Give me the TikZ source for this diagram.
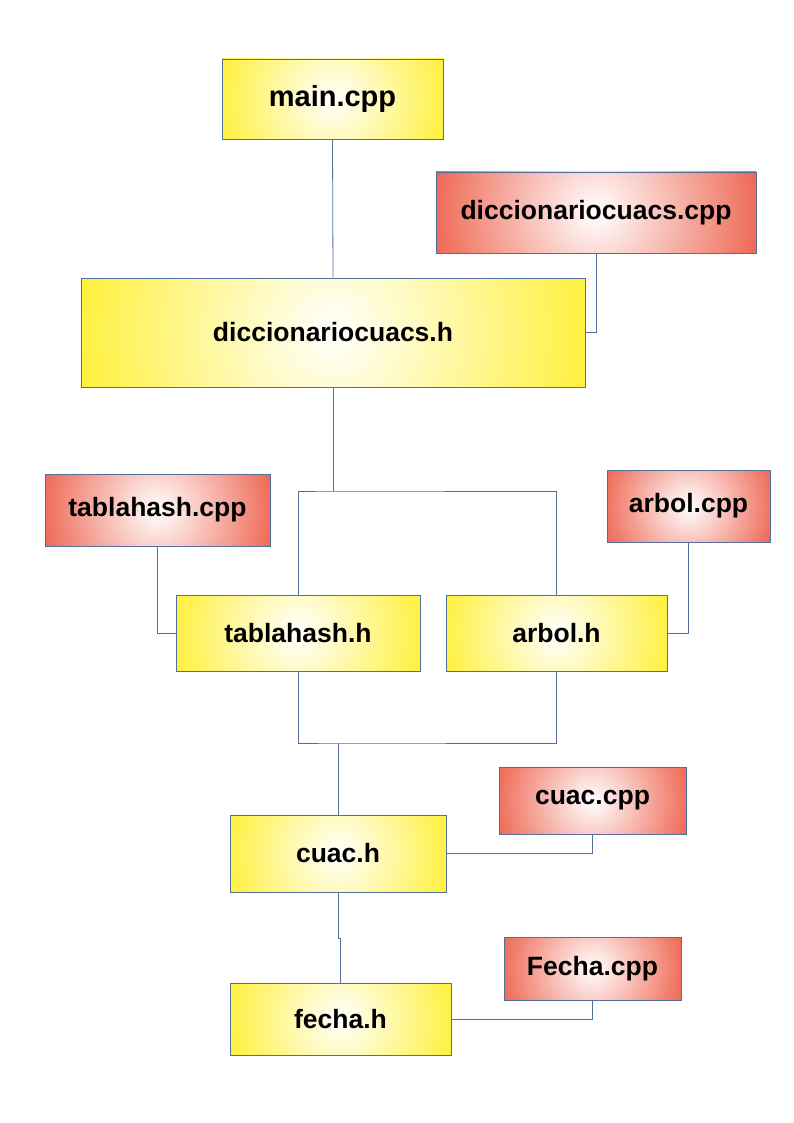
\documentclass[tikz,border=0pt]{standalone}
\usepackage{fontspec}
\setmainfont{Liberation Sans}
\definecolor{hYellow}{RGB}{255,240,60}
\definecolor{cRed}{RGB}{238,104,84}
\definecolor{lineBlue}{RGB}{85,110,155}
\usetikzlibrary{positioning,calc}

\begin{document}
\begin{tikzpicture}[x=1pt, y=-1pt,
    filebox/.style={draw=lineBlue, line width=0.8pt,
      font=\fontsize{26.5}{30}\selectfont\bfseries, align=center, inner sep=0pt},
    glow/.style={path picture={
        \path let \p1=($(path picture bounding box.north east)-(path picture bounding box.center)$),
          \n1={veclen(\x1,\y1)} in
          [shading=radial, inner color=white, outer color=#1]
          (path picture bounding box.center) circle (\n1);}},
    hfile/.style={filebox, glow=hYellow},
    cppfile/.style={filebox, glow=cRed},
    link/.style={draw=lineBlue, line width=0.8pt}]
    \useasboundingbox (0,0) rectangle (794,1123);
    % Headers and sources
    \node[hfile, minimum width=221pt, minimum height=80pt, font=\fontsize{29}{33}\selectfont\bfseries]
      (main) at (332.5,99) {main.cpp};
    \node[cppfile, minimum width=320pt, minimum height=81pt] (dcpp) at (596,212.5) {diccionariocuacs.cpp};
    \node[hfile, minimum width=504pt, minimum height=109pt] (dh) at (333,332.5) {diccionariocuacs.h};
    \node[cppfile, minimum width=225pt, minimum height=72pt] (tcpp) at (157.5,510) {tablahash.cpp};
    \node[cppfile, minimum width=163pt, minimum height=72pt] (acpp) at (688.5,506) {arbol.cpp};
    \node[hfile, minimum width=244pt, minimum height=76pt] (th) at (298,633) {tablahash.h};
    \node[hfile, minimum width=221pt, minimum height=76pt] (ah) at (556.5,633) {arbol.h};
    \node[cppfile, minimum width=187pt, minimum height=67pt] (ccpp) at (592.5,800.5) {cuac.cpp};
    \node[hfile, minimum width=216pt, minimum height=77pt] (ch) at (338,853.5) {cuac.h};
    \node[cppfile, minimum width=177pt, minimum height=63pt] (fcpp) at (592.5,968.5) {Fecha.cpp};
    \node[hfile, minimum width=221pt, minimum height=72pt] (fh) at (340.5,1019) {fecha.h};
    % Bus points
    \coordinate (busA) at (333,491);
    \coordinate (busB) at (338,743);
    % Connectors
    \draw[link] (main.south) -- (dh.north);
    \draw[link] (dcpp.south) |- (dh.east);
    \draw[link] (dh.south) -- (busA);
    \draw[link] (th.north) |- (busA) -| (ah.north);
    \draw[link] (tcpp.south) |- (th.west);
    \draw[link] (acpp.south) |- (ah.east);
    \draw[link] (th.south) |- (busB) -| (ah.south);
    \draw[link] (busB) -- (ch.north);
    \draw[link] (ccpp.south) |- (ch.east);
    \draw[link] (ch.south) -- ++(0,46) -| (fh.north);
    \draw[link] (fcpp.south) |- (fh.east);
\end{tikzpicture}
\end{document}
